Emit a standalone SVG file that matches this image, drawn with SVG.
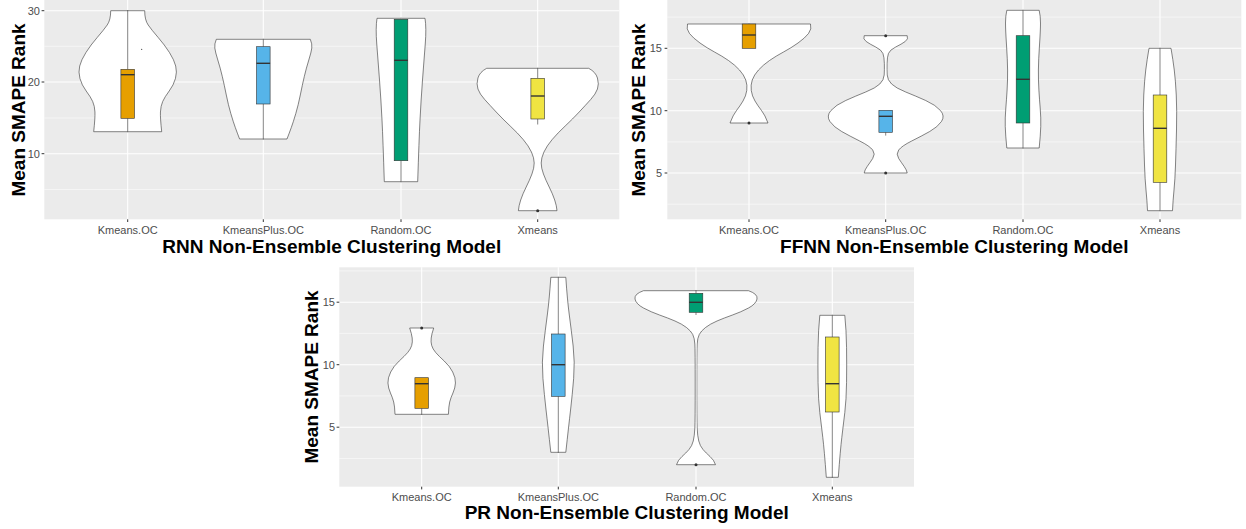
<svg xmlns="http://www.w3.org/2000/svg" width="1246" height="529" viewBox="0 0 1246 529">
<style>
.page{fill:#ffffff}
.bg{fill:#EBEBEB}
.gmaj{stroke:#ffffff;stroke-width:1.07;fill:none}
.gmin{stroke:#ffffff;stroke-width:0.53;fill:none}
.tick{stroke:#333333;stroke-width:1;fill:none}
.tly{font-family:"Liberation Sans",Arial,sans-serif;font-size:11px;fill:#4d4d4d;text-anchor:end}
.tlx{font-family:"Liberation Sans",Arial,sans-serif;font-size:11px;fill:#4d4d4d;text-anchor:middle}
.ttl{font-family:"Liberation Sans",Arial,sans-serif;font-size:19px;font-weight:bold;fill:#000000;text-anchor:middle}
.vio{fill:#ffffff;stroke:#333333;stroke-width:0.6;stroke-linejoin:round}
.wh{stroke:#333333;stroke-width:0.6;fill:none}
.box{stroke:#333333;stroke-width:0.6}
.med{stroke:#333333;stroke-width:1.4}
.out{fill:#333333}
.c1{fill:#E69F00}
.c2{fill:#56B4E9}
.c3{fill:#009E73}
.c4{fill:#F0E442}
</style>
<defs>
<path id="v11" d="M-0.5,10.7 H17 Q17,20 20.5,25 Q24,30 30.5,37.5 Q37,45 41.75,52.5 Q46.5,60 48,66 Q49.5,72 47.75,78.5 Q46,85 41.5,91 Q37,97 35,101.5 Q33,106 32.75,112 Q32.5,118 34,131.7 H-0.5"/>
<path id="v12" d="M-0.5,39.3 H47 Q49,44 48.5,48 Q48,52 45.5,60 Q43,68 41,76.5 Q39,85 37,95 Q35,105 32.5,113.5 Q30,122 28,127.5 Q26,133 23.7,139 H-0.5"/>
<path id="v13" d="M-0.5,18.3 H24 Q25.5,28 24.25,44 Q23,60 21.5,80 Q20,100 19,120 Q18,140 16.7,181.7 H-0.5"/>
<path id="v14" d="M-0.5,68.3 H51 Q58,72 59.75,78 Q61.5,84 59.75,89 Q58,94 53,99.5 Q48,105 41.5,112 Q35,119 27.5,126 Q20,133 14.5,139.5 Q9,146 6.25,152 Q3.5,158 3.5,163 Q3.5,168 5.75,174 Q8,180 11.5,187 Q15,194 17,200 Q19,206 19.3,210.7 H-0.5"/>
<path id="v21" d="M-0.5,24 H61.5 Q63,29 59.5,33.5 Q56,38 49,43 Q42,48 34.5,52 Q27,56 20.5,60.5 Q14,65 9.5,70 Q5,75 3.25,80 Q1.5,85 2.25,90.5 Q3,96 6,101 Q9,106 12.5,110.5 Q16,115 19,123 H-0.5"/>
<path id="v22" d="M-0.5,35.7 H21.5 Q23,39 19.5,41.5 Q16,44 10,47 Q4,50 2.75,53.5 Q1.5,57 1.35,63.5 Q1.2,70 1.5,75 Q1.8,80 5.9,84 Q10,88 20,92 Q30,96 40,100.5 Q50,105 54.75,110.5 Q59.5,116 55.75,121.5 Q52,127 44,131.5 Q36,136 26,141 Q16,146 13,150 Q10,154 13,158.5 Q16,163 18.5,166.5 Q21,170 21.5,173 H-0.5"/>
<path id="v23" d="M-0.5,10.3 H16.2 Q17.5,16 17.5,23 Q17.5,30 16.5,45 Q15.5,60 15.4,70 Q15.3,80 15.9,90 Q16.5,100 17.25,109 Q18,118 17.75,126.5 Q17.5,135 16.2,148 H-0.5"/>
<path id="v24" d="M-0.5,48.3 H11 Q13,60 14.25,70 Q15.5,80 16.25,95 Q17,110 16.5,130 Q16,150 15.5,165 Q15,180 14,190 Q13,200 12.5,210.7 H-0.5"/>
<path id="v31" d="M-0.5,328 H12 Q10,334 9.5,338 Q9,342 10,345.5 Q11,349 14,352.5 Q17,356 22.5,361 Q28,366 31,372 Q34,378 33.75,383 Q33.5,388 31.25,393 Q29,398 28,402 Q27,406 26.7,414.3 H-0.5"/>
<path id="v32" d="M-0.5,277.3 H7.5 Q9,300 11,315 Q13,330 14.85,346 Q16.7,362 15.35,378.5 Q14,395 12.25,410 Q10.5,425 7.5,452.3 H-0.5"/>
<path id="v33" d="M-0.5,290.7 H52.5 Q62,294 61,299 Q60,304 52.5,308 Q45,312 36.5,315 Q28,318 21,321 Q14,324 9.5,327.5 Q5,331 3.25,334.5 Q1.5,338 1.15,344 Q0.8,350 0.8,385 Q0.8,420 1.15,428 Q1.5,436 2.75,441 Q4,446 7,449.5 Q10,453 14,456.5 Q18,460 19.5,464.7 H-0.5"/>
<path id="v34" d="M-0.5,315.3 H12.5 Q14,330 14.25,347.5 Q14.5,365 14.25,382.5 Q14,400 12.5,412.5 Q11,425 9.5,437.5 Q8,450 6,477.3 H-0.5"/>
</defs>
<rect class="page" x="0" y="0" width="1246" height="529"/>

<!-- Panel 1: RNN -->
<g id="panel-rnn">
<rect class="bg" x="44.3" y="0" width="575" height="219.3"/>
<g id="grid-rnn">
<line class="gmin" x1="44.3" x2="619.3" y1="189.5" y2="189.5"/>
<line class="gmin" x1="44.3" x2="619.3" y1="118" y2="118"/>
<line class="gmin" x1="44.3" x2="619.3" y1="46.3" y2="46.3"/>
<line class="gmaj" x1="44.3" x2="619.3" y1="153.7" y2="153.7"/>
<line class="gmaj" x1="44.3" x2="619.3" y1="82" y2="82"/>
<line class="gmaj" x1="44.3" x2="619.3" y1="10.7" y2="10.7"/>
<line class="gmaj" x1="127.7" x2="127.7" y1="0" y2="219.3"/>
<line class="gmaj" x1="263.3" x2="263.3" y1="0" y2="219.3"/>
<line class="gmaj" x1="401" x2="401" y1="0" y2="219.3"/>
<line class="gmaj" x1="537.7" x2="537.7" y1="0" y2="219.3"/>
</g>
<g id="rnn-kmeans">
<g transform="translate(127.7,0)"><use href="#v11" class="vio"/><use href="#v11" class="vio" transform="scale(-1,1)"/></g>
<line class="wh" x1="127.7" x2="127.7" y1="10.7" y2="69.3"/>
<line class="wh" x1="127.7" x2="127.7" y1="118.3" y2="131.7"/>
<rect class="box c1" x="120.9" y="69.3" width="13.6" height="49"/>
<line class="med" x1="120.9" x2="134.5" y1="74.7" y2="74.7"/>
<circle class="out" cx="141.7" cy="49.3" r="0.6"/>
</g>
<g id="rnn-kmeansplus">
<g transform="translate(263.3,0)"><use href="#v12" class="vio"/><use href="#v12" class="vio" transform="scale(-1,1)"/></g>
<line class="wh" x1="263.3" x2="263.3" y1="39.3" y2="46.7"/>
<line class="wh" x1="263.3" x2="263.3" y1="104" y2="139"/>
<rect class="box c2" x="256.5" y="46.7" width="13.6" height="57.3"/>
<line class="med" x1="256.5" x2="270.1" y1="63.3" y2="63.3"/>
</g>
<g id="rnn-random">
<g transform="translate(401,0)"><use href="#v13" class="vio"/><use href="#v13" class="vio" transform="scale(-1,1)"/></g>
<line class="wh" x1="401" x2="401" y1="160.7" y2="181.7"/>
<rect class="box c3" x="394.2" y="19.3" width="13.6" height="141.4"/>
<line class="med" x1="394.2" x2="407.8" y1="60.3" y2="60.3"/>
</g>
<g id="rnn-xmeans">
<g transform="translate(537.7,0)"><use href="#v14" class="vio"/><use href="#v14" class="vio" transform="scale(-1,1)"/></g>
<line class="wh" x1="537.7" x2="537.7" y1="68.3" y2="78.3"/>
<line class="wh" x1="537.7" x2="537.7" y1="119" y2="124.5"/>
<rect class="box c4" x="530.9" y="78.3" width="13.6" height="40.7"/>
<line class="med" x1="530.9" x2="544.5" y1="96" y2="96"/>
<circle class="out" cx="537.7" cy="210.7" r="1.5"/>
</g>
<g id="axes-rnn">
<line class="tick" x1="41.6" x2="44.3" y1="153.7" y2="153.7"/>
<line class="tick" x1="41.6" x2="44.3" y1="82" y2="82"/>
<line class="tick" x1="41.6" x2="44.3" y1="10.7" y2="10.7"/>
<line class="tick" x1="127.7" x2="127.7" y1="219.3" y2="222"/>
<line class="tick" x1="263.3" x2="263.3" y1="219.3" y2="222"/>
<line class="tick" x1="401" x2="401" y1="219.3" y2="222"/>
<line class="tick" x1="537.7" x2="537.7" y1="219.3" y2="222"/>
<text class="tly" x="40" y="157.7">10</text>
<text class="tly" x="40" y="86">20</text>
<text class="tly" x="40" y="14.7">30</text>
<text class="tlx" x="127.7" y="234">Kmeans.OC</text>
<text class="tlx" x="263.3" y="234">KmeansPlus.OC</text>
<text class="tlx" x="401" y="234">Random.OC</text>
<text class="tlx" x="537.7" y="234">Xmeans</text>
<text class="ttl" x="331.8" y="253">RNN Non-Ensemble Clustering Model</text>
<text class="ttl" transform="translate(25,110) rotate(-90)" x="0" y="0">Mean SMAPE Rank</text>
</g>
</g>

<!-- Panel 2: FFNN -->
<g id="panel-ffnn">
<rect class="bg" x="667.3" y="0" width="574" height="219.3"/>
<g id="grid-ffnn">
<line class="gmin" x1="667.3" x2="1241.3" y1="204.2" y2="204.2"/>
<line class="gmin" x1="667.3" x2="1241.3" y1="141.9" y2="141.9"/>
<line class="gmin" x1="667.3" x2="1241.3" y1="79.5" y2="79.5"/>
<line class="gmin" x1="667.3" x2="1241.3" y1="17.1" y2="17.1"/>
<line class="gmaj" x1="667.3" x2="1241.3" y1="173" y2="173"/>
<line class="gmaj" x1="667.3" x2="1241.3" y1="110.7" y2="110.7"/>
<line class="gmaj" x1="667.3" x2="1241.3" y1="48.3" y2="48.3"/>
<line class="gmaj" x1="749" x2="749" y1="0" y2="219.3"/>
<line class="gmaj" x1="885.7" x2="885.7" y1="0" y2="219.3"/>
<line class="gmaj" x1="1023" x2="1023" y1="0" y2="219.3"/>
<line class="gmaj" x1="1160" x2="1160" y1="0" y2="219.3"/>
</g>
<g id="ffnn-kmeans">
<g transform="translate(749,0)"><use href="#v21" class="vio"/><use href="#v21" class="vio" transform="scale(-1,1)"/></g>
<rect class="box c1" x="742.2" y="24" width="13.6" height="24.3"/>
<line class="med" x1="742.2" x2="755.8" y1="35" y2="35"/>
<circle class="out" cx="749" cy="123" r="1.5"/>
</g>
<g id="ffnn-kmeansplus">
<g transform="translate(885.7,0)"><use href="#v22" class="vio"/><use href="#v22" class="vio" transform="scale(-1,1)"/></g>
<line class="wh" x1="885.7" x2="885.7" y1="132.3" y2="135.6"/>
<rect class="box c2" x="878.9" y="110.3" width="13.6" height="22"/>
<line class="med" x1="878.9" x2="892.5" y1="116.3" y2="116.3"/>
<circle class="out" cx="885.7" cy="35.7" r="1.5"/>
<circle class="out" cx="885.7" cy="173" r="1.5"/>
</g>
<g id="ffnn-random">
<g transform="translate(1023,0)"><use href="#v23" class="vio"/><use href="#v23" class="vio" transform="scale(-1,1)"/></g>
<line class="wh" x1="1023" x2="1023" y1="10.3" y2="35.7"/>
<line class="wh" x1="1023" x2="1023" y1="123" y2="148"/>
<rect class="box c3" x="1016.2" y="35.7" width="13.6" height="87.3"/>
<line class="med" x1="1016.2" x2="1029.8" y1="79.3" y2="79.3"/>
</g>
<g id="ffnn-xmeans">
<g transform="translate(1160,0)"><use href="#v24" class="vio"/><use href="#v24" class="vio" transform="scale(-1,1)"/></g>
<line class="wh" x1="1160" x2="1160" y1="48.3" y2="95"/>
<line class="wh" x1="1160" x2="1160" y1="182.3" y2="210.7"/>
<rect class="box c4" x="1153.2" y="95" width="13.6" height="87.3"/>
<line class="med" x1="1153.2" x2="1166.8" y1="128.3" y2="128.3"/>
</g>
<g id="axes-ffnn">
<line class="tick" x1="664.6" x2="667.3" y1="173" y2="173"/>
<line class="tick" x1="664.6" x2="667.3" y1="110.7" y2="110.7"/>
<line class="tick" x1="664.6" x2="667.3" y1="48.3" y2="48.3"/>
<line class="tick" x1="749" x2="749" y1="219.3" y2="222"/>
<line class="tick" x1="885.7" x2="885.7" y1="219.3" y2="222"/>
<line class="tick" x1="1023" x2="1023" y1="219.3" y2="222"/>
<line class="tick" x1="1160" x2="1160" y1="219.3" y2="222"/>
<text class="tly" x="662" y="177">5</text>
<text class="tly" x="662" y="114.7">10</text>
<text class="tly" x="662" y="52.3">15</text>
<text class="tlx" x="749" y="234">Kmeans.OC</text>
<text class="tlx" x="885.7" y="234">KmeansPlus.OC</text>
<text class="tlx" x="1023" y="234">Random.OC</text>
<text class="tlx" x="1160" y="234">Xmeans</text>
<text class="ttl" x="954.3" y="253">FFNN Non-Ensemble Clustering Model</text>
<text class="ttl" transform="translate(645,110) rotate(-90)" x="0" y="0">Mean SMAPE Rank</text>
</g>
</g>

<!-- Panel 3: PR -->
<g id="panel-pr">
<rect class="bg" x="339.3" y="267.3" width="574.7" height="219.4"/>
<g id="grid-pr">
<line class="gmin" x1="339.3" x2="914" y1="458.5" y2="458.5"/>
<line class="gmin" x1="339.3" x2="914" y1="395.9" y2="395.9"/>
<line class="gmin" x1="339.3" x2="914" y1="333.4" y2="333.4"/>
<line class="gmin" x1="339.3" x2="914" y1="270.9" y2="270.9"/>
<line class="gmaj" x1="339.3" x2="914" y1="427.2" y2="427.2"/>
<line class="gmaj" x1="339.3" x2="914" y1="364.7" y2="364.7"/>
<line class="gmaj" x1="339.3" x2="914" y1="302.2" y2="302.2"/>
<line class="gmaj" x1="421.7" x2="421.7" y1="267.3" y2="486.7"/>
<line class="gmaj" x1="558.3" x2="558.3" y1="267.3" y2="486.7"/>
<line class="gmaj" x1="696" x2="696" y1="267.3" y2="486.7"/>
<line class="gmaj" x1="832.3" x2="832.3" y1="267.3" y2="486.7"/>
</g>
<g id="pr-kmeans">
<g transform="translate(421.7,0)"><use href="#v31" class="vio"/><use href="#v31" class="vio" transform="scale(-1,1)"/></g>
<line class="wh" x1="421.7" x2="421.7" y1="408.3" y2="414.3"/>
<rect class="box c1" x="414.9" y="377.7" width="13.6" height="30.6"/>
<line class="med" x1="414.9" x2="428.5" y1="383.7" y2="383.7"/>
<circle class="out" cx="421.7" cy="328" r="1.5"/>
</g>
<g id="pr-kmeansplus">
<g transform="translate(558.3,0)"><use href="#v32" class="vio"/><use href="#v32" class="vio" transform="scale(-1,1)"/></g>
<line class="wh" x1="558.3" x2="558.3" y1="277.3" y2="334"/>
<line class="wh" x1="558.3" x2="558.3" y1="396.3" y2="452.3"/>
<rect class="box c2" x="551.5" y="334" width="13.6" height="62.3"/>
<line class="med" x1="551.5" x2="565.1" y1="364.7" y2="364.7"/>
</g>
<g id="pr-random">
<g transform="translate(696,0)"><use href="#v33" class="vio"/><use href="#v33" class="vio" transform="scale(-1,1)"/></g>
<line class="wh" x1="696" x2="696" y1="290.7" y2="293.3"/>
<line class="wh" x1="696" x2="696" y1="312.3" y2="315"/>
<rect class="box c3" x="689.2" y="293.3" width="13.6" height="19"/>
<line class="med" x1="689.2" x2="702.8" y1="302.3" y2="302.3"/>
<circle class="out" cx="696" cy="464.7" r="1.5"/>
</g>
<g id="pr-xmeans">
<g transform="translate(832.3,0)"><use href="#v34" class="vio"/><use href="#v34" class="vio" transform="scale(-1,1)"/></g>
<line class="wh" x1="832.3" x2="832.3" y1="315.3" y2="337"/>
<line class="wh" x1="832.3" x2="832.3" y1="412" y2="477.3"/>
<rect class="box c4" x="825.5" y="337" width="13.6" height="75"/>
<line class="med" x1="825.5" x2="839.1" y1="383.7" y2="383.7"/>
</g>
<g id="axes-pr">
<line class="tick" x1="336.6" x2="339.3" y1="427.2" y2="427.2"/>
<line class="tick" x1="336.6" x2="339.3" y1="364.7" y2="364.7"/>
<line class="tick" x1="336.6" x2="339.3" y1="302.2" y2="302.2"/>
<line class="tick" x1="421.7" x2="421.7" y1="486.7" y2="489.4"/>
<line class="tick" x1="558.3" x2="558.3" y1="486.7" y2="489.4"/>
<line class="tick" x1="696" x2="696" y1="486.7" y2="489.4"/>
<line class="tick" x1="832.3" x2="832.3" y1="486.7" y2="489.4"/>
<text class="tly" x="335" y="431.2">5</text>
<text class="tly" x="335" y="368.7">10</text>
<text class="tly" x="335" y="306.2">15</text>
<text class="tlx" x="421.7" y="501">Kmeans.OC</text>
<text class="tlx" x="558.3" y="501">KmeansPlus.OC</text>
<text class="tlx" x="696" y="501">Random.OC</text>
<text class="tlx" x="832.3" y="501">Xmeans</text>
<text class="ttl" x="626.7" y="519">PR Non-Ensemble Clustering Model</text>
<text class="ttl" transform="translate(318,377) rotate(-90)" x="0" y="0">Mean SMAPE Rank</text>
</g>
</g>
</svg>
